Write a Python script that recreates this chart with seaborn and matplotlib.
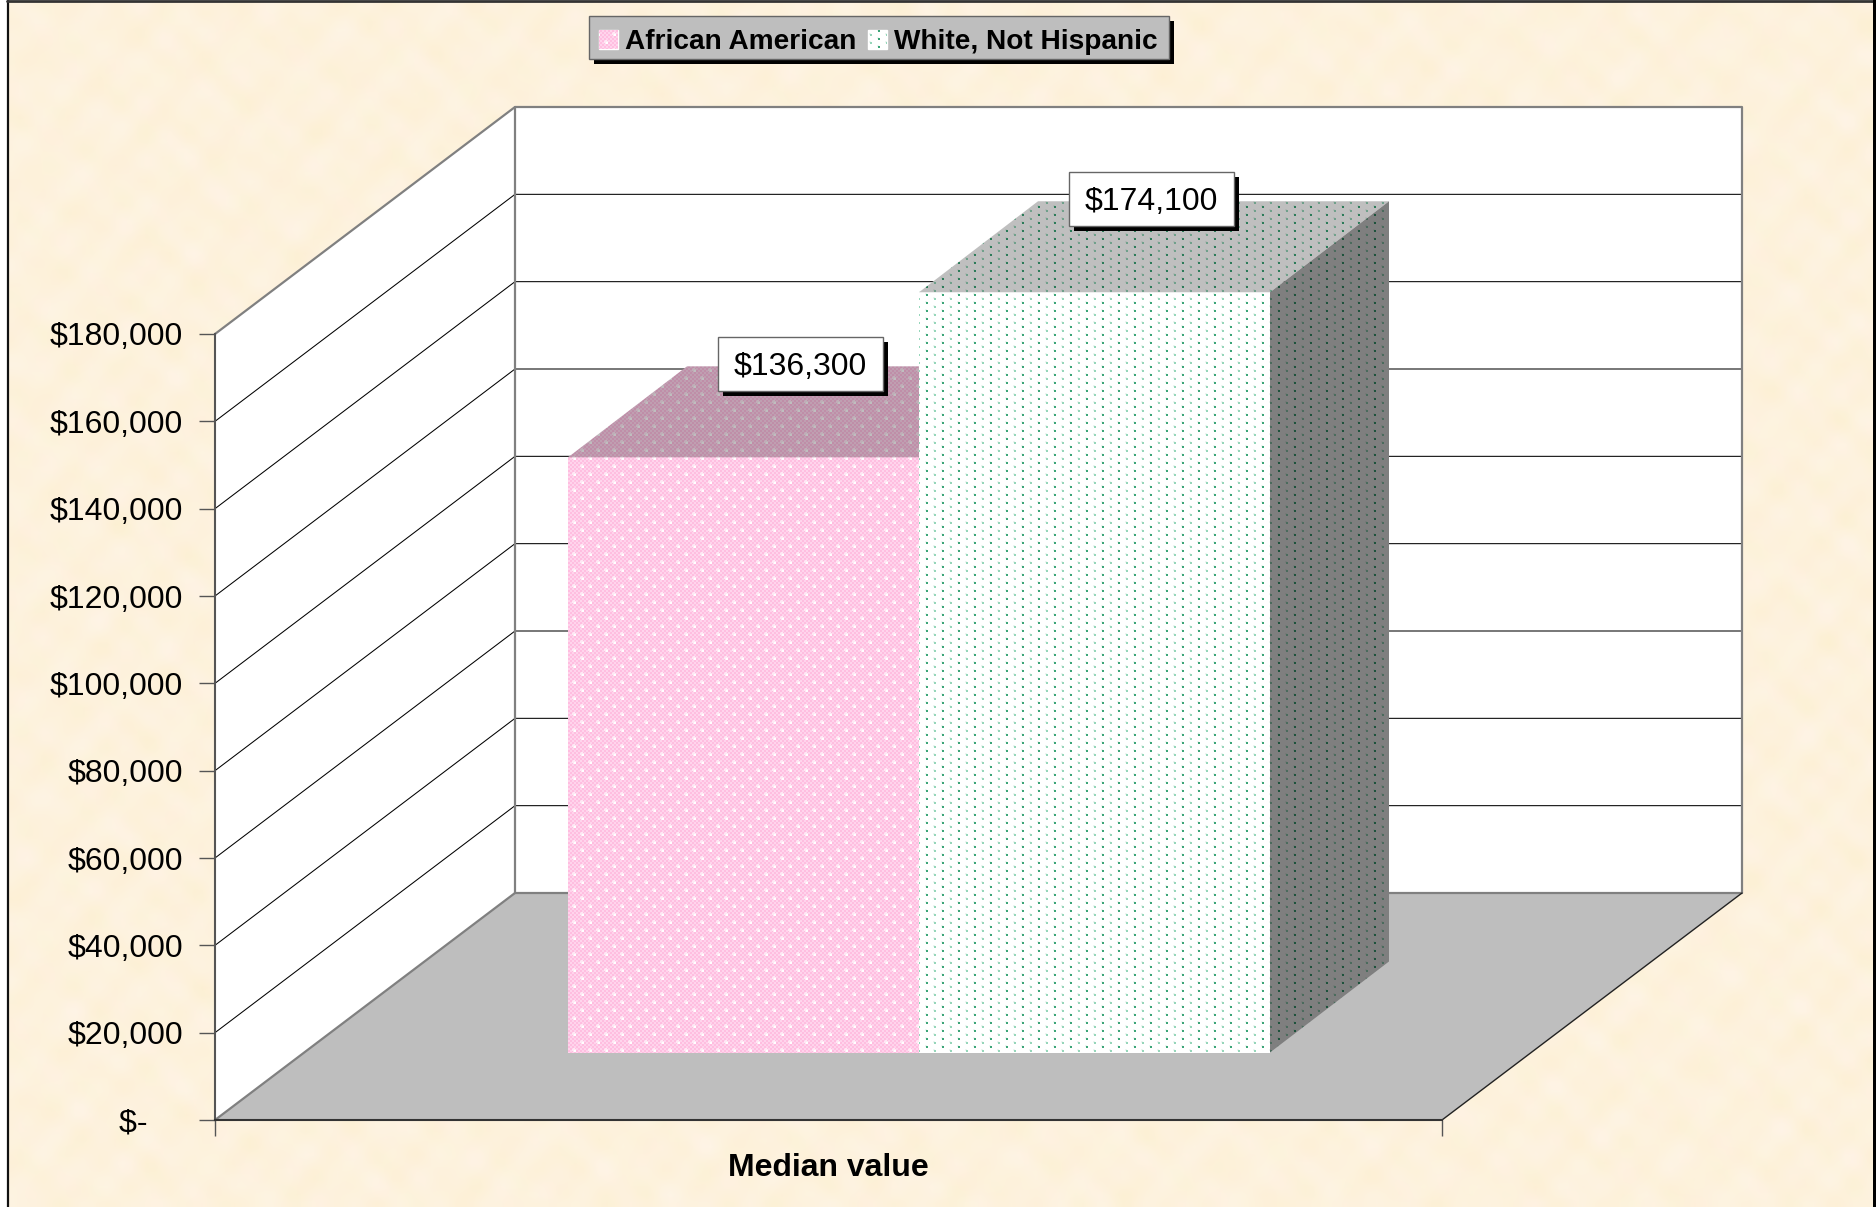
import numpy as np
import pandas as pd
import seaborn as sns
import matplotlib.pyplot as plt
from matplotlib.patches import Polygon, Rectangle

# values
groups = ["African American", "White, Not Hispanic"]
values = [136300, 174100]
value_labels = ["$136,300", "$174,100"]
category = ["Median value"]
y_ticks = [0, 20000, 40000, 60000, 80000, 100000, 120000, 140000, 160000, 180000]
y_labels = ["$-    ", "$20,000", "$40,000", "$60,000", "$80,000", "$100,000",
            "$120,000", "$140,000", "$160,000", "$180,000"]

W, H = 1876, 1207
FONT = "Liberation Sans"
DX, DY = 300, -227        # depth of the floor in pixels
BAR_DX, BAR_DY = 119, -91  # depth of a bar in pixels
sns.set_style("white")
plt.rcParams["font.family"] = [FONT, "DejaVu Sans"]


def axes_at(x0, y0, x1, y1, **kw):
    # axes placed from pixel corners, y counted from the top
    return fig.add_axes([x0 / W, 1 - y1 / H, (x1 - x0) / W, (y1 - y0) / H], **kw)


def paper():
    # mottled paper made of a few sines, blocky like the old jpeg
    yy, xx = np.mgrid[0:H // 8 + 1, 0:W // 8 + 1]
    a = (np.sin(xx * 0.61 + yy * 0.43) + np.sin(xx * 0.37 - yy * 0.71 + 1.3) + np.sin(xx * 1.13 + yy * 0.97 + 2.1)
         + np.sin(xx * 0.17 + yy * 0.23 + 0.4) * np.sin(xx * 0.89 - yy * 1.31))
    b = (np.sin(xx * 0.83 - yy * 0.59 + 0.7) + np.sin(xx * 0.29 + yy * 0.91 + 4.0) + np.sin(xx * 1.27 - yy * 1.07)
         + np.sin(xx * 0.13 - yy * 0.19 + 2.4) * np.sin(xx * 1.03 + yy * 0.77))
    img = np.zeros(a.shape + (3,))
    img[..., 0] = 253.5 + 0.3 * b
    img[..., 1] = 242 + 0.6 * a
    img[..., 2] = 221 + 1.5 * a + 1.5 * b
    return np.clip(img, 0, 255) / 255


def tile_image(base1, base2, dots, halo_color, reach):
    # repeated 16x16 fill pattern over the whole picture
    yy, xx = np.mgrid[0:H, 0:W]
    check = ((xx // 2 + yy // 2) % 2).astype(bool)
    img = np.where(check[..., None], np.array(base1), np.array(base2)).astype(float)
    u = xx % 16
    v = yy % 16
    for ox, oy, color in dots:
        core = (u - ox >= 0) & (u - ox < 2) & (v - oy >= 0) & (v - oy < 2)
        du = np.minimum((u - ox + 1) % 16, (ox - u) % 16)
        dv = np.minimum((v - oy + 1) % 16, (oy - v) % 16)
        halo = (du + dv <= reach) & ~core
        img[halo] = halo_color
        img[core] = color
    return img / 255


fig = plt.figure(figsize=(W / 100, H / 100), dpi=100)

# paper, frame, walls and floor
back = axes_at(0, 0, W, H)
back.imshow(paper(), extent=(8, W - 3, H, 2), interpolation="bilinear", aspect="auto", zorder=0)
back.set_xlim(0, W)
back.set_ylim(H, 0)
back.axis("off")
back.plot([7.5, 7.5], [H, 1], color="#111111", lw=1.6, zorder=1)
back.plot([7, W - 3], [1, 1], color="#333333", lw=2, zorder=1)
back.add_patch(Rectangle((W - 3, 0), 3, H, fc="black", ec="none", zorder=1))

# legend box with hard shadow, the entries sit on top of it
back.add_patch(Rectangle((594, 21), 580, 43, fc="black", ec="none", zorder=1))
back.add_patch(Rectangle((589, 16), 580, 43, fc="#BEBEBE", ec="#666666", lw=1, zorder=1))

# value axis, front left edge of the box
ax = axes_at(215, 334, 1442, 1120, zorder=1)
ax.patch.set_alpha(0)
ax.set_ylim(0, 180000)
ax.set_xlim(0, 1)
ax.set_yticks(y_ticks, y_labels, fontsize=23, color="black")
ax.set_xticks([0, 1], ["", ""])
ax.tick_params(axis="both", length=11.5, width=1, color="#555555", pad=11.5, left=True, bottom=True)
ax.set_xlabel(category[0], fontsize=23, fontweight="bold", color="black", labelpad=0.5)
for s in ["top", "right"]:
    ax.spines[s].set_visible(False)
ax.spines["left"].set_color("#555555")
ax.spines["left"].set_linewidth(1.5)
ax.spines["bottom"].set_color("#333333")
ax.spines["bottom"].set_linewidth(1.5)

to_px = back.transData.inverted()
x_l, y_bot = to_px.transform(ax.transData.transform((0, 0)))
x_r, y_top = to_px.transform(ax.transData.transform((1, 180000)))
bx_l, bx_r = x_l + DX, x_r + DX
by_bot, by_top = y_bot + DY, y_top + DY

back.add_patch(Polygon([(x_l, y_bot), (x_l, y_top), (bx_l, by_top), (bx_l, by_bot)], fc="white", ec="none", zorder=2))
back.add_patch(Rectangle((bx_l, by_top), bx_r - bx_l, by_bot - by_top, fc="white", ec="none", zorder=2))
back.add_patch(Polygon([(x_l, y_bot), (x_r, y_bot), (bx_r, by_bot), (bx_l, by_bot)], fc="#BEBEBE", ec="none", zorder=2))
for t in y_ticks[1:-1]:
    y = to_px.transform(ax.transData.transform((0, t)))[1]
    back.plot([x_l, bx_l, bx_r], [y, y + DY, y + DY], color="black", lw=0.75, zorder=3)
back.plot([x_l, bx_l, bx_r, bx_r], [y_top, by_top, by_top, by_bot], color="#808080", lw=1.6, zorder=3)
back.plot([bx_l, bx_l], [by_top, by_bot], color="#808080", lw=1.6, zorder=3)
back.plot([x_l, bx_l, bx_r], [y_bot, by_bot, by_bot], color="#808080", lw=1.6, zorder=3)
back.plot([x_r, bx_r], [y_bot, by_bot], color="#222222", lw=1, zorder=3)

# bars, front faces
df = pd.DataFrame({"metric": category * len(groups), "group": groups, "value": values})
bax = axes_at(568, 1052.5 - 786, 1270, 1052.5, zorder=2)
bax.patch.set_alpha(0)
sns.barplot(data=df, x="metric", y="value", hue="group", hue_order=groups,
            palette=["#FFC4E2", "white"], gap=0, width=0.8, saturation=1, ax=bax)
bax.set_xlim(-0.4, 0.4)
bax.set_ylim(0, 180000)
bax.axis("off")
bars = [c[0] for c in bax.containers]

leg = bax.legend(loc="center", bbox_to_anchor=(878.5 / W, 1 - 42 / H), bbox_transform=fig.transFigure,
                 ncol=2, prop={"family": FONT, "weight": "bold", "size": 20.2}, labelcolor="black",
                 frameon=False, borderpad=0.36, borderaxespad=0, handlelength=0.68, handleheight=0.68,
                 handletextpad=0.25, columnspacing=0.42, labelspacing=0)
fig.canvas.draw()

# faces and fill patterns on top
over = axes_at(0, 0, W, H, zorder=3)
over.set_xlim(0, W)
over.set_ylim(H, 0)
over.axis("off")
over.patch.set_alpha(0)

white_dot = (255, 255, 255)
pale_green = (150, 214, 186)
dark_green = (60, 165, 120)
pink = tile_image((255, 190, 224), (255, 212, 236), [(6, 2, white_dot), (14, 10, white_dot)], (255, 232, 244), 2)
green = tile_image((255, 255, 255), (255, 255, 255),
                   [(6, 2, pale_green), (6, 10, pale_green), (14, 6, dark_green), (14, 14, dark_green)],
                   (236, 246, 241), 1)
tiles = [pink, green]


def pattern(img, verts, scale=1.0):
    poly = Polygon(verts, transform=over.transData, fc="none", ec="none")
    over.add_patch(poly)
    im = over.imshow(img * scale, extent=(0, W, H, 0), interpolation="nearest", aspect="auto", zorder=1)
    im.set_clip_path(poly)
    over.set_xlim(0, W)
    over.set_ylim(H, 0)


for bar, img, label in zip(bars, tiles, value_labels):
    ext = bar.get_window_extent()
    (x0, y1), (x1, y0) = to_px.transform([(ext.x0, ext.y0), (ext.x1, ext.y1)])
    pattern(img, [(x0, y0), (x1, y0), (x1, y1), (x0, y1)])
    # top face in shade, side face darker
    pattern(img, [(x0, y0), (x1, y0), (x1 + BAR_DX, y0 + BAR_DY), (x0 + BAR_DX, y0 + BAR_DY)], scale=0.75)
    if img is green:
        pattern(img, [(x1, y0), (x1 + BAR_DX, y0 + BAR_DY), (x1 + BAR_DX, y1 + BAR_DY), (x1, y1)], scale=0.5)
    # value label box with hard shadow
    cx, cy = (x0 + x1) / 2 + 56.5, y0 - 93
    over.add_patch(Rectangle((cx - 77.5, cy - 22), 165, 54, fc="black", ec="none", zorder=5))
    over.add_patch(Rectangle((cx - 82.5, cy - 27), 165, 54, fc="white", ec="#666666", lw=1, zorder=6))
    over.text(cx + 0.5, cy + 2.5, label, fontsize=23, ha="center", va="center", color="black", zorder=7)

# legend swatches get the same fill
for handle, img in zip(leg.get_patches(), tiles):
    ext = handle.get_window_extent()
    (x0, y1), (x1, y0) = to_px.transform([(ext.x0, ext.y0), (ext.x1, ext.y1)])
    pattern(img, [(x0, y0), (x1, y0), (x1, y1), (x0, y1)])

fig.savefig("out.png", dpi=100)
